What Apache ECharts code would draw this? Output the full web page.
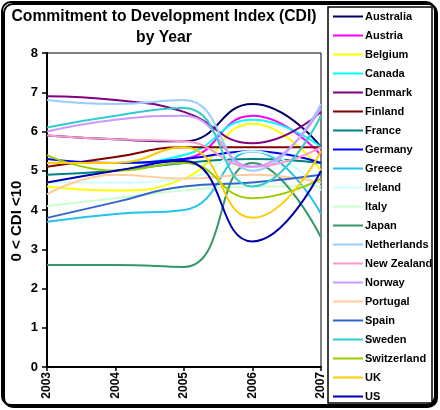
<!DOCTYPE html>
<html><head><meta charset="utf-8">
<script src="https://cdn.jsdelivr.net/npm/echarts@6/dist/echarts.min.js"></script>
<style>html,body{margin:0;padding:0;background:#fff}#c{width:440px;height:410px}</style>
</head><body><div id="c"></div>
<script>
var years = ['2003','2004','2005','2006','2007'];
var yTicks = [0,1,2,3,4,5,6,7,8];
var countries = ['Australia','Austria','Belgium','Canada','Denmark','Finland','France','Germany','Greece','Ireland','Italy','Japan','Netherlands','New Zealand','Norway','Portugal','Spain','Sweden','Switzerland','UK','US'];
var colors = ['#000066','#FF00FF','#FFFF00','#00FFFF','#800080','#800000','#008080','#0000FF','#22C4EE','#CCFFFF','#CCFFCC','#339966','#99CCFF','#FF99CC','#CC99FF','#FFCC99','#3366CC','#33CCCC','#99CC00','#FFCC00','#0000B0'];
var australia   = [5.9, 5.8, 5.75, 6.7, 5.6];
var austria     = [5.2, 5.2, 5.3, 6.4, 5.4];
var belgium     = [4.6, 4.5, 4.8, 6.2, 5.0];
var canada      = [5.2, 5.2, 5.4, 6.3, 5.6];
var denmark     = [6.9, 6.8, 6.5, 5.7, 6.5];
var finland     = [5.1, 5.35, 5.6, 5.6, 5.6];
var france      = [4.9, 5.0, 5.2, 5.3, 5.2];
var germany     = [5.3, 5.2, 5.3, 5.5, 5.2];
var greece      = [3.7, 3.9, 4.0, 5.5, 3.9];
var ireland     = [4.7, 4.7, 4.8, 5.5, 4.5];
var italy       = [4.1, 4.3, 4.5, 4.6, 4.6];
var japan       = [2.6, 2.6, 2.55, 5.2, 3.3];
var netherlands = [6.8, 6.7, 6.8, 5.0, 6.7];
var newZealand  = [5.9, 5.8, 5.75, 5.1, 5.6];
var norway      = [6.0, 6.3, 6.4, 5.1, 6.6];
var portugal    = [4.4, 4.9, 4.8, 4.9, 4.7];
var spain       = [3.8, 4.2, 4.6, 4.7, 4.9];
var sweden      = [6.1, 6.4, 6.6, 4.6, 6.4];
var switzerland = [5.4, 5.0, 5.2, 4.3, 4.8];
var uk          = [5.2, 5.2, 5.6, 3.8, 5.5];
var us          = [4.7, 5.0, 5.25, 3.2, 5.0];
var seriesData = [australia,austria,belgium,canada,denmark,finland,france,germany,greece,ireland,italy,japan,netherlands,newZealand,norway,portugal,spain,sweden,switzerland,uk,us];

var chart = echarts.init(document.getElementById('c'), null, {renderer:'canvas'});
var F = 'Arial, "Liberation Sans", sans-serif';
var lineIcon = 'path://M0,0h0.01v0.01h-0.01z M0,4.1h30v1.8h-30z M29.99,9.99h0.01v0.01h-0.01z';
chart.setOption({
  animation:false,
  color: colors,
  graphic:[
    {type:'rect', z:-10, shape:{x:2,y:2,width:433,height:403,r:9}, style:{fill:'#fff',stroke:'#000',lineWidth:2,shadowColor:'#000',shadowOffsetX:2,shadowOffsetY:2,shadowBlur:0}},
    {type:'rect', z:-5, shape:{x:328,y:7,width:104,height:396}, style:{fill:'#fff',stroke:'#000',lineWidth:1.5}},
    {type:'text', x:164, y:17, style:{text:'Commitment to Development Index (CDI)', font:'bold 15.7px '+F, fill:'#000', textAlign:'center', textVerticalAlign:'middle'}},
    {type:'text', x:164, y:38, style:{text:'by Year', font:'bold 15.7px '+F, fill:'#000', textAlign:'center', textVerticalAlign:'middle'}},
    {type:'text', x:17, y:221, rotation:Math.PI/2, style:{text:'0 < CDI <10', font:'bold 15px '+F, fill:'#000', textAlign:'center', textVerticalAlign:'middle'}}
  ],
  legend:{
    orient:'vertical', left:333, top:11, itemWidth:30, itemHeight:10, itemGap:8, padding:0,
    icon: lineIcon,
    textStyle:{fontFamily:F, fontWeight:'bold', fontSize:11, color:'#000', padding:[0,0,0,-3]},
    data: countries
  },
  grid:{left:47, right:119, top:53, bottom:43, show:true, borderColor:'#000', borderWidth:1},
  xAxis:{
    type:'category', data:years, boundaryGap:false,
    axisLine:{lineStyle:{color:'#000',width:2}},
    axisTick:{show:true, length:4, lineStyle:{color:'#000',width:1.5}},
    axisLabel:{rotate:90, color:'#000', fontFamily:F, fontWeight:'bold', fontSize:12, margin:5}
  },
  yAxis:{
    type:'value', min:yTicks[0], max:yTicks[yTicks.length-1], interval:1,
    axisLine:{show:true, lineStyle:{color:'#000',width:2}},
    axisTick:{show:true, length:5, lineStyle:{color:'#000',width:1.5}},
    splitLine:{show:false},
    axisLabel:{color:'#000', fontFamily:F, fontWeight:'bold', fontSize:13, margin:9}
  },
  series: countries.map(function(n,i){
    return {name:n, type:'line', data:seriesData[i], smooth:0.5, symbol:'none', showSymbol:false,
      lineStyle:{width:2, color:colors[i]}, itemStyle:{color:colors[i]}};
  })
});
</script></body></html>
